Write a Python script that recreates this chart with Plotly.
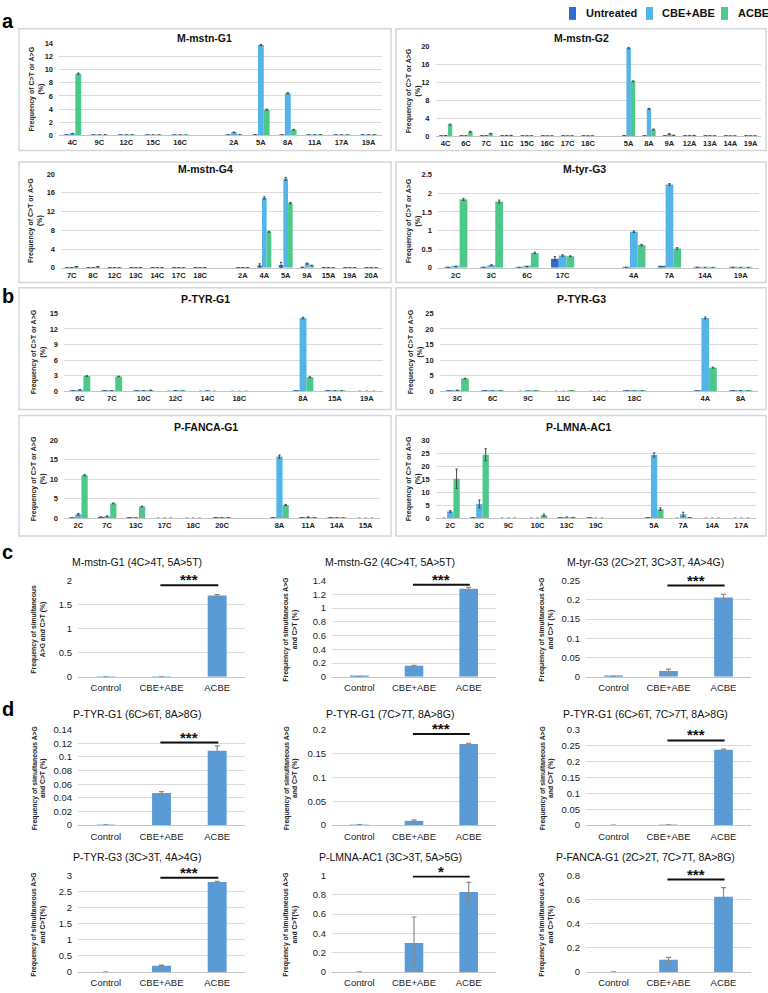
import plotly.graph_objects as go

# ---------------- data: panels a & b (per-site editing frequency, %) ----------------
series_names = ["Untreated", "CBE+ABE", "ACBE"]

mstn_g1_sites = ["4C", "9C", "12C", "15C", "16C", " ", "2A", "5A", "8A", "11A", "17A", "19A"]
mstn_g1_untreated = [0.05, 0.04, 0.03, 0.02, 0.02, None, 0.05, 0.08, 0.05, 0.05, 0.03, 0.05]
mstn_g1_cbe_abe = [0.25, 0.05, 0.05, 0.03, 0.03, None, 0.45, 13.8, 6.4, 0.06, 0.04, 0.06]
mstn_g1_acbe = [9.4, 0.06, 0.05, 0.03, 0.02, None, 0.05, 3.9, 0.85, 0.06, 0.03, 0.06]
mstn_g1_err_u = [0, 0, 0, 0, 0, 0, 0, 0, 0, 0, 0, 0]
mstn_g1_err_b = [0.03, 0, 0, 0, 0, 0, 0.05, 0.1, 0.1, 0, 0, 0]
mstn_g1_err_g = [0.1, 0, 0, 0, 0, 0, 0, 0.1, 0.05, 0, 0, 0]

mstn_g2_sites = ["4C", "6C", "7C", "11C", "15C", "16C", "17C", "18C", " ", "5A", "8A", "9A", "12A", "13A", "14A", "19A"]
mstn_g2_untreated = [0.05, 0.03, 0.03, 0.05, 0.02, 0.02, 0.02, 0.02, None, 0.1, 0.05, 0.05, 0.03, 0.02, 0.02, 0.02]
mstn_g2_cbe_abe = [0.15, 0.05, 0.1, 0.15, 0.05, 0.03, 0.03, 0.03, None, 19.6, 6.1, 0.5, 0.1, 0.05, 0.03, 0.03]
mstn_g2_acbe = [2.6, 1.0, 0.6, 0.15, 0.05, 0.03, 0.03, 0.03, None, 12.2, 1.5, 0.2, 0.15, 0.05, 0.03, 0.03]
mstn_g2_err_u = [0] * 16
mstn_g2_err_b = [0, 0, 0, 0.05, 0, 0, 0, 0, 0, 0.15, 0.1, 0.05, 0, 0, 0, 0]
mstn_g2_err_g = [0.1, 0.1, 0.05, 0.05, 0, 0, 0, 0, 0, 0.1, 0.1, 0.05, 0.05, 0, 0, 0]

mstn_g4_sites = ["7C", "8C", "12C", "13C", "14C", "17C", "18C", " ", "2A", "4A", "5A", "9A", "15A", "19A", "20A"]
mstn_g4_untreated = [0.03, 0.03, 0.02, 0.02, 0.02, 0.02, 0.02, None, 0.05, 0.5, 0.6, 0.1, 0.02, 0.02, 0.02]
mstn_g4_cbe_abe = [0.05, 0.05, 0.05, 0.05, 0.05, 0.03, 0.03, None, 0.05, 14.9, 19.0, 0.9, 0.05, 0.03, 0.03]
mstn_g4_acbe = [0.2, 0.2, 0.05, 0.05, 0.05, 0.03, 0.03, None, 0.05, 7.7, 13.8, 0.5, 0.03, 0.03, 0.03]
mstn_g4_err_u = [0, 0, 0, 0, 0, 0, 0, 0, 0, 0.35, 0.55, 0.05, 0, 0, 0]
mstn_g4_err_b = [0, 0, 0, 0, 0, 0, 0, 0, 0, 0.25, 0.3, 0.1, 0, 0, 0]
mstn_g4_err_g = [0.05, 0.05, 0, 0, 0, 0, 0, 0, 0, 0.1, 0.15, 0.05, 0, 0, 0]

tyr_g3_sites = ["2C", "3C", "6C", "17C", " ", "4A", "7A", "14A", "19A"]
tyr_g3_untreated = [0.01, 0.01, 0.005, 0.24, None, 0.01, 0.03, 0.01, 0.01]
tyr_g3_cbe_abe = [0.03, 0.07, 0.03, 0.33, None, 0.97, 2.24, 0.005, 0.005]
tyr_g3_acbe = [1.84, 1.78, 0.40, 0.31, None, 0.61, 0.52, 0.005, 0.005]
tyr_g3_err_u = [0, 0, 0, 0.06, 0, 0, 0, 0, 0]
tyr_g3_err_b = [0.01, 0.01, 0.01, 0.02, 0, 0.02, 0.02, 0, 0]
tyr_g3_err_g = [0.03, 0.04, 0.02, 0.01, 0, 0.02, 0.02, 0, 0]

p_tyr_g1_sites = ["6C", "7C", "10C", "12C", "14C", "18C", " ", "8A", "15A", "19A"]
p_tyr_g1_untreated = [0.05, 0.05, 0.05, 0.02, 0.02, 0.01, None, 0.05, 0.05, 0.02]
p_tyr_g1_cbe_abe = [0.3, 0.15, 0.1, 0.15, 0.05, 0.01, None, 14.1, 0.08, 0.02]
p_tyr_g1_acbe = [2.95, 2.85, 0.2, 0.05, 0.02, 0.01, None, 2.7, 0.08, 0.02]
p_tyr_g1_err_u = [0] * 10
p_tyr_g1_err_b = [0.05, 0, 0, 0, 0, 0, 0, 0.15, 0, 0]
p_tyr_g1_err_g = [0.05, 0.05, 0.05, 0, 0, 0, 0, 0.1, 0, 0]

p_tyr_g3_sites = ["3C", "6C", "9C", "11C", "14C", "18C", " ", "4A", "8A"]
p_tyr_g3_untreated = [0.05, 0.1, 0.02, 0.02, 0.01, 0.1, None, 0.1, 0.1]
p_tyr_g3_cbe_abe = [0.35, 0.1, 0.05, 0.02, 0.01, 0.1, None, 23.5, 0.2]
p_tyr_g3_acbe = [4.1, 0.1, 0.1, 0.1, 0.01, 0.1, None, 7.6, 0.1]
p_tyr_g3_err_u = [0] * 9
p_tyr_g3_err_b = [0.05, 0, 0, 0, 0, 0, 0, 0.3, 0]
p_tyr_g3_err_g = [0.1, 0, 0, 0, 0, 0, 0, 0.15, 0]

p_fanca_g1_sites = ["2C", "7C", "13C", "17C", "18C", "20C", " ", "8A", "11A", "14A", "15A"]
p_fanca_g1_untreated = [0.05, 0.3, 0.1, 0, 0, 0.1, None, 0.1, 0.1, 0.1, 0]
p_fanca_g1_cbe_abe = [1.0, 0.5, 0.05, 0, 0, 0.1, None, 15.8, 0.3, 0.1, 0]
p_fanca_g1_acbe = [11.0, 3.8, 3.0, 0, 0, 0.1, None, 3.4, 0.1, 0.05, 0]
p_fanca_g1_err_u = [0, 0.05, 0, 0, 0, 0, 0, 0, 0, 0, 0]
p_fanca_g1_err_b = [0.2, 0.1, 0, 0, 0, 0, 0, 0.4, 0.05, 0, 0]
p_fanca_g1_err_g = [0.15, 0.1, 0.1, 0, 0, 0, 0, 0.15, 0, 0, 0]

p_lmna_ac1_sites = ["2C", "3C", "9C", "10C", "13C", "19C", " ", "5A", "7A", "14A", "17A"]
p_lmna_ac1_untreated = [0, 0.1, 0, 0, 0.1, 0.1, None, 0.1, 0, 0, 0]
p_lmna_ac1_cbe_abe = [2.6, 5.5, 0, 0, 0.2, 0, None, 24.3, 1.5, 0, 0]
p_lmna_ac1_acbe = [15.2, 24.4, 0, 1.2, 0.3, 0, None, 3.5, 0.2, 0, 0]
p_lmna_ac1_err_u = [0] * 11
p_lmna_ac1_err_b = [0.3, 1.5, 0, 0, 0.3, 0, 0, 0.8, 0.8, 0, 0]
p_lmna_ac1_err_g = [3.7, 2.3, 0, 0.4, 0, 0, 0, 0.5, 0.1, 0, 0]

# ---------------- data: panels c & d (simultaneous editing, %) ----------------
groups = ["Control", "CBE+ABE", "ACBE"]
c_mstn_g1 = [0.003, 0.003, 1.69]
c_mstn_g1_err = [0, 0, 0.02]
c_mstn_g2 = [0.004, 0.16, 1.28]
c_mstn_g2_err = [0, 0.008, 0.02]
c_tyr_g3 = [0.001, 0.015, 0.206]
c_tyr_g3_err = [0, 0.005, 0.008]
d_tyr_g1_6c_8a = [0.0005, 0.047, 0.109]
d_tyr_g1_6c_8a_err = [0, 0.002, 0.007]
d_tyr_g1_7c_8a = [0.001, 0.009, 0.17]
d_tyr_g1_7c_8a_err = [0, 0.002, 0.001]
d_tyr_g1_6c_7c_8a = [0, 0.001, 0.237]
d_tyr_g1_6c_7c_8a_err = [0, 0, 0.002]
d_tyr_g3 = [0, 0.19, 2.8]
d_tyr_g3_err = [0, 0.02, 0.02]
d_lmna_ac1 = [0, 0.30, 0.83]
d_lmna_ac1_err = [0, 0.27, 0.10]
d_fanca_g1 = [0, 0.10, 0.625]
d_fanca_g1_err = [0, 0.02, 0.075]

# ---------------- layout helpers ----------------
W, H = 768, 993


def px(x):
    return x / W


def py(y):
    return 1 - y / H


AB_FONT = "Liberation Sans, Arial, sans-serif"
CD_FONT = "Liberation Sans Narrow, Arial Narrow, Liberation Sans, sans-serif"
COLORS = ["#2E6DD1", "#52B4E8", "#4CC98A"]
CD_COLOR = "#5B9BD5"
GRID = "#dcdcdc"
BASE = "#c4c4c4"

ab_panels = [
    dict(title="M-mstn-G1", sites=mstn_g1_sites,
         vals=[mstn_g1_untreated, mstn_g1_cbe_abe, mstn_g1_acbe],
         errs=[mstn_g1_err_u, mstn_g1_err_b, mstn_g1_err_g],
         ymax=14, dtick=2, plot=(59, 382, 38, 130.7), box=(19, 391, 23, 146),
         tpos=(204, 32), ytx=36),
    dict(title="M-mstn-G2", sites=mstn_g2_sites,
         vals=[mstn_g2_untreated, mstn_g2_cbe_abe, mstn_g2_acbe],
         errs=[mstn_g2_err_u, mstn_g2_err_b, mstn_g2_err_g],
         ymax=20, dtick=4, plot=(435.5, 760.8, 40.7, 131.7), box=(396, 766, 23, 146),
         tpos=(581, 32), ytx=413),
    dict(title="M-mstn-G4", sites=mstn_g4_sites,
         vals=[mstn_g4_untreated, mstn_g4_cbe_abe, mstn_g4_acbe],
         errs=[mstn_g4_err_u, mstn_g4_err_b, mstn_g4_err_g],
         ymax=20, dtick=4, plot=(61, 382, 170, 264.7), box=(19, 391, 157.7, 279.7),
         tpos=(205, 165), ytx=36),
    dict(title="M-tyr-G3", sites=tyr_g3_sites,
         vals=[tyr_g3_untreated, tyr_g3_cbe_abe, tyr_g3_acbe],
         errs=[tyr_g3_err_u, tyr_g3_err_b, tyr_g3_err_g],
         ymax=2.5, dtick=0.5, plot=(438, 758.5, 170.7, 264.7), box=(396, 766, 157.7, 279.7),
         tpos=(584, 165), ytx=413),
    dict(title="P-TYR-G1", sites=p_tyr_g1_sites,
         vals=[p_tyr_g1_untreated, p_tyr_g1_cbe_abe, p_tyr_g1_acbe],
         errs=[p_tyr_g1_err_u, p_tyr_g1_err_b, p_tyr_g1_err_g],
         ymax=15, dtick=3, plot=(64, 382.7, 310.7, 389.7), box=(19, 391, 285, 408),
         tpos=(205, 296), ytx=38),
    dict(title="P-TYR-G3", sites=p_tyr_g3_sites,
         vals=[p_tyr_g3_untreated, p_tyr_g3_cbe_abe, p_tyr_g3_acbe],
         errs=[p_tyr_g3_err_u, p_tyr_g3_err_b, p_tyr_g3_err_g],
         ymax=25, dtick=5, plot=(439.6, 758.4, 310.7, 389.7), box=(396, 766, 285, 408),
         tpos=(581, 296), ytx=415),
    dict(title="P-FANCA-G1", sites=p_fanca_g1_sites,
         vals=[p_fanca_g1_untreated, p_fanca_g1_cbe_abe, p_fanca_g1_acbe],
         errs=[p_fanca_g1_err_u, p_fanca_g1_err_b, p_fanca_g1_err_g],
         ymax=20, dtick=5, plot=(64, 380, 439, 518), box=(19, 391, 414, 536),
         tpos=(206, 426), ytx=38),
    dict(title="P-LMNA-AC1", sites=p_lmna_ac1_sites,
         vals=[p_lmna_ac1_untreated, p_lmna_ac1_cbe_abe, p_lmna_ac1_acbe],
         errs=[p_lmna_ac1_err_u, p_lmna_ac1_err_b, p_lmna_ac1_err_g],
         ymax=30, dtick=5, plot=(435.7, 756, 439, 518), box=(396, 766, 414, 536),
         tpos=(578, 426), ytx=413),
]

YT1 = "Frequency of simultaneous<br>A>G and C>T (%)"
YT2 = "Frequency of simultaneous A>G<br>and C>T (%)"
YT3 = "Frequency of simultaneous A>G<br>and C>T(%)"

cd_panels = [
    dict(title="M-mstn-G1 (4C>4T, 5A>5T)", vals=c_mstn_g1, errs=c_mstn_g1_err, ymax=2, dtick=0.5,
         row=0, col=0, ytitle=YT1, sig=(1.9, "***")),
    dict(title="M-mstn-G2 (4C>4T, 5A>5T)", vals=c_mstn_g2, errs=c_mstn_g2_err, ymax=1.4, dtick=0.2,
         row=0, col=1, ytitle=YT2, sig=(1.34, "***")),
    dict(title="M-tyr-G3 (2C>2T, 3C>3T, 4A>4G)", vals=c_tyr_g3, errs=c_tyr_g3_err, ymax=0.25, dtick=0.05,
         row=0, col=2, ytitle=YT2, sig=(0.237, "***")),
    dict(title="P-TYR-G1 (6C>6T, 8A>8G)", vals=d_tyr_g1_6c_8a, errs=d_tyr_g1_6c_8a_err, ymax=0.14, dtick=0.02,
         row=1, col=0, ytitle=YT2, sig=(0.121, "***")),
    dict(title="P-TYR-G1 (7C>7T, 8A>8G)", vals=d_tyr_g1_7c_8a, errs=d_tyr_g1_7c_8a_err, ymax=0.2, dtick=0.05,
         row=1, col=1, ytitle=YT2, sig=(0.191, "***")),
    dict(title="P-TYR-G1 (6C>6T, 7C>7T, 8A>8G)", vals=d_tyr_g1_6c_7c_8a, errs=d_tyr_g1_6c_7c_8a_err, ymax=0.3, dtick=0.05,
         row=1, col=2, ytitle=YT2, sig=(0.266, "***")),
    dict(title="P-TYR-G3 (3C>3T, 4A>4G)", vals=d_tyr_g3, errs=d_tyr_g3_err, ymax=3, dtick=0.5,
         row=2, col=0, ytitle=YT3, sig=(2.93, "***")),
    dict(title="P-LMNA-AC1 (3C>3T, 5A>5G)", vals=d_lmna_ac1, errs=d_lmna_ac1_err, ymax=1, dtick=0.2,
         row=2, col=1, ytitle=YT3, sig=(0.99, "*")),
    dict(title="P-FANCA-G1 (2C>2T, 7C>7T, 8A>8G)", vals=d_fanca_g1, errs=d_fanca_g1_err, ymax=0.8, dtick=0.2,
         row=2, col=2, ytitle=YT3, sig=(0.767, "***")),
]
cd_cols = [(78, 245, 137, 39), (332, 496, 390, 291), (586, 751, 645, 547)]  # x0, x1, title x, ytitle x
cd_rows = [(581, 678.3, 562.7), (731.7, 828.3, 716), (879.3, 976.7, 861)]  # top, bottom, title y

fig = go.Figure()
layout = {}
annotations = []
shapes = []
n = 0


def axnames(i):
    return ("x" if i == 1 else f"x{i}", "y" if i == 1 else f"y{i}",
            "xaxis" if i == 1 else f"xaxis{i}", "yaxis" if i == 1 else f"yaxis{i}")


for p in ab_panels:
    n += 1
    xa, ya, xk, yk = axnames(n)
    for k in range(3):
        fig.add_trace(go.Bar(
            x=p["sites"], y=p["vals"][k], name=series_names[k], legendgroup=series_names[k],
            showlegend=False, marker=dict(color=COLORS[k], line=dict(width=0)),
            error_y=dict(type="data", array=p["errs"][k], color="#4a4a4a", thickness=1, width=1.2),
            xaxis=xa, yaxis=ya, hoverinfo="x+y"))
    x0, x1, yt, yb = p["plot"]
    layout[xk] = dict(domain=[px(x0), px(x1)], anchor=ya, type="category",
                      categoryorder="array", categoryarray=p["sites"],
                      showgrid=False, showline=True, linecolor=BASE, linewidth=1, ticks="",
                      tickfont=dict(family=AB_FONT, size=7.5, color="#222", weight="bold"),
                      fixedrange=True)
    layout[yk] = dict(domain=[py(yb), py(yt)], anchor=xa, range=[0, p["ymax"]], dtick=p["dtick"],
                      tick0=0, showgrid=True, gridcolor=GRID, gridwidth=1, zeroline=False,
                      showline=False, ticks="", ticklabelstandoff=5,
                      tickfont=dict(family=AB_FONT, size=7.5, color="#222", weight="bold"),
                      fixedrange=True)
    bx0, bx1, by0, by1 = p["box"]
    shapes.append(dict(type="rect", xref="paper", yref="paper", x0=px(bx0), x1=px(bx1),
                       y0=py(by1), y1=py(by0), line=dict(color="#d6d6d6", width=1.5),
                       fillcolor="rgba(0,0,0,0)", layer="below"))
    annotations.append(dict(text=p["title"], x=px(p["tpos"][0]), y=py(p["tpos"][1]),
                            xref="paper", yref="paper", showarrow=False, xanchor="center",
                            yanchor="middle",
                            font=dict(family=AB_FONT, size=10.5, color="#111", weight="bold")))
    annotations.append(dict(text="Frequency of C>T or A>G<br>(%)", x=px(p["ytx"]),
                            y=py((yt + yb) / 2), xref="paper", yref="paper", showarrow=False,
                            textangle=-90, xanchor="center", yanchor="middle",
                            font=dict(family=AB_FONT, size=7, color="#222", weight="bold")))

for p in cd_panels:
    n += 1
    xa, ya, xk, yk = axnames(n)
    cx0, cx1, tx, ytx = cd_cols[p["col"]]
    ry0, ry1, ty = cd_rows[p["row"]]
    fig.add_trace(go.Bar(
        x=groups, y=p["vals"], width=0.34, showlegend=False,
        marker=dict(color=CD_COLOR, line=dict(width=0)),
        error_y=dict(type="data", array=p["errs"], color="#8a8a8a", thickness=1.2, width=2.5),
        xaxis=xa, yaxis=ya, hoverinfo="x+y"))
    layout[xk] = dict(domain=[px(cx0), px(cx1)], anchor=ya, type="category",
                      categoryorder="array", categoryarray=groups,
                      showgrid=False, showline=True, linecolor=BASE, linewidth=1, ticks="",
                      ticklabelstandoff=2,
                      tickfont=dict(family=CD_FONT, size=9.5, color="#222"), fixedrange=True)
    layout[yk] = dict(domain=[py(ry1), py(ry0)], anchor=xa, range=[0, p["ymax"]], dtick=p["dtick"],
                      tick0=0, showgrid=True, gridcolor=GRID, gridwidth=1, zeroline=False,
                      showline=False, ticks="", ticklabelstandoff=5,
                      tickfont=dict(family=CD_FONT, size=9.5, color="#222"), fixedrange=True)
    annotations.append(dict(text=p["title"], x=px(tx), y=py(ty), xref="paper", yref="paper",
                            showarrow=False, xanchor="center", yanchor="middle",
                            font=dict(family=CD_FONT, size=10.5, color="#111")))
    annotations.append(dict(text=p["ytitle"], x=px(ytx), y=py((ry0 + ry1) / 2 + 1),
                            xref="paper", yref="paper", showarrow=False, textangle=-90,
                            xanchor="center", yanchor="middle",
                            font=dict(family=CD_FONT, size=6.8, color="#222", weight="bold")))
    sy, stxt = p["sig"]
    shapes.append(dict(type="line", xref=xa, yref=ya, x0=0.98, x1=2.02, y0=sy, y1=sy,
                       line=dict(color="#111", width=2)))
    annotations.append(dict(text=stxt, x=1.5, y=sy, xref=xa, yref=ya, showarrow=False,
                            xanchor="center", yanchor="bottom", yshift=-5,
                            font=dict(family=AB_FONT, size=15, color="#111", weight="bold")))

for letter, lx, ly in [("a", 8, 15), ("b", 8, 293), ("c", 7, 552), ("d", 8, 711)]:
    annotations.append(dict(text=letter, x=px(lx), y=py(ly), xref="paper", yref="paper",
                            showarrow=False, xanchor="center", yanchor="middle",
                            font=dict(family=AB_FONT, size=20, color="#000", weight="bold")))

# legend (drawn as swatches + labels, top right)
legend_items = [(569, 576, 584), (646, 653, 660), (721, 728, 736)]  # swatch x0, x1, text x
for k, (sx0, sx1, tx) in enumerate(legend_items):
    shapes.append(dict(type="rect", xref="paper", yref="paper", x0=px(sx0), x1=px(sx1),
                       y0=py(14), y1=py(1), fillcolor=COLORS[k], line=dict(width=0)))
    annotations.append(dict(text=series_names[k], x=px(tx), y=py(7.5), xref="paper", yref="paper",
                            showarrow=False, xanchor="left", yanchor="middle",
                            font=dict(family=AB_FONT, size=11, color="#111", weight="bold")))

fig.update_layout(
    width=W, height=H, autosize=False,
    margin=dict(l=0, r=0, t=0, b=0),
    paper_bgcolor="white", plot_bgcolor="white",
    barmode="group", bargap=0.35, bargroupgap=0,
    showlegend=False,
    annotations=annotations, shapes=shapes,
    **layout,
)

fig.write_html(
    "out.html",
    config={"displayModeBar": False},
    post_script="document.body.style.margin='0';document.body.style.overflow='hidden';",
)
